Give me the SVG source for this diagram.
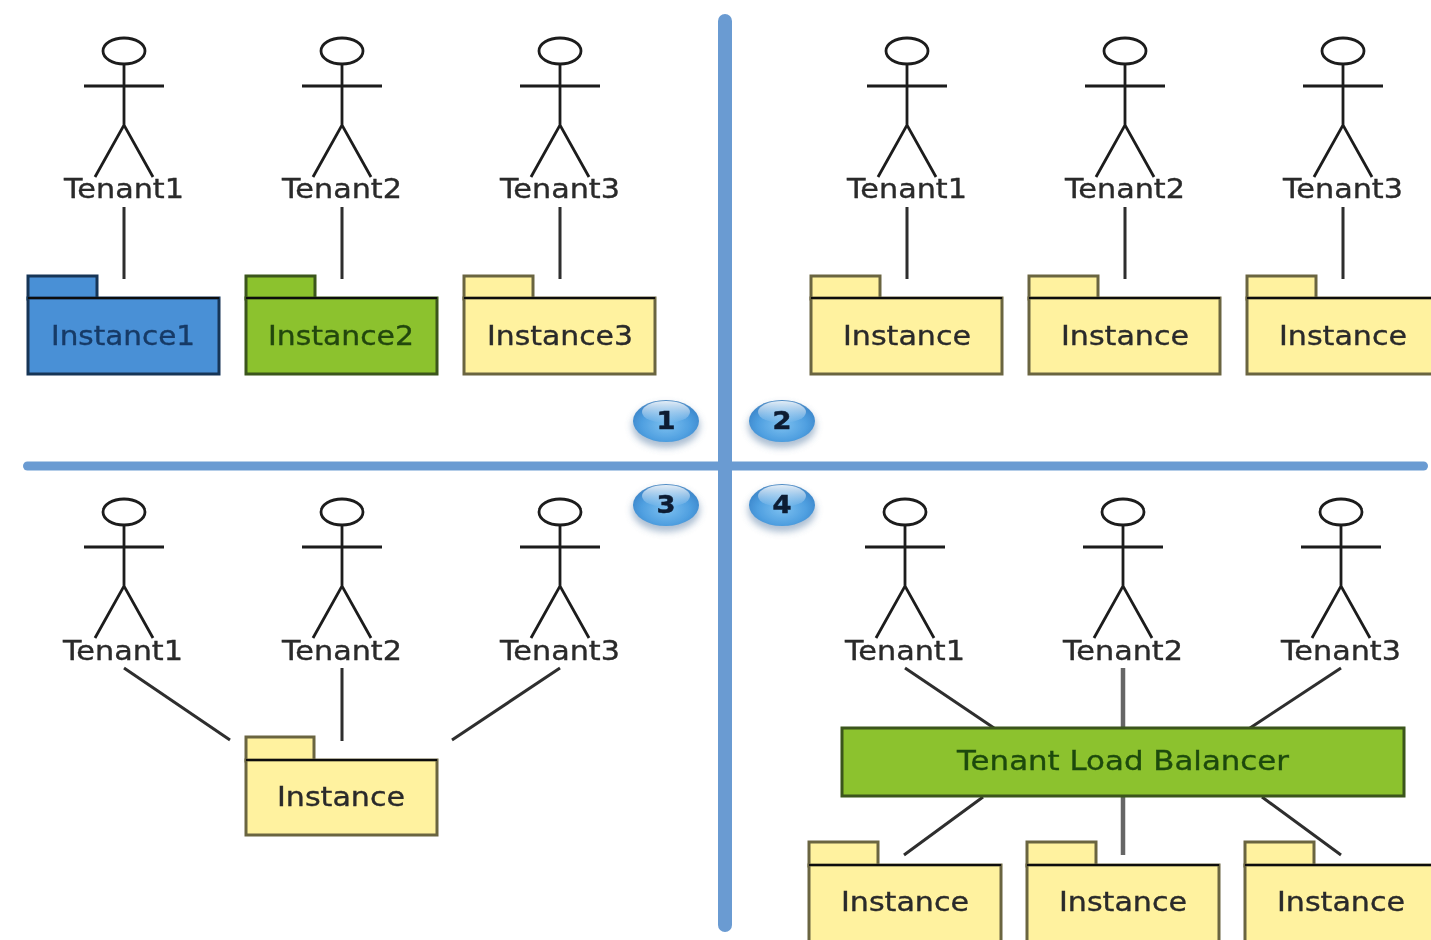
<svg xmlns="http://www.w3.org/2000/svg" xmlns:xlink="http://www.w3.org/1999/xlink" width="1431" height="940" viewBox="0 0 1431 940">
<style>
text{font-family:"DejaVu Sans","Liberation Sans",sans-serif;font-size:26px;text-anchor:middle;fill:#2a2a2a;stroke:#2a2a2a;stroke-width:.35}
.a{fill:none;stroke:#1c1c1c;stroke-width:2.8}
.c{fill:none;stroke:#2e2e2e;stroke-width:3}
.g{fill:none;stroke:#666;stroke-width:4.500}
.p{stroke-width:3;stroke:#6b6540;fill:#fff29f}
.pl{stroke:#111;stroke-width:2.200;fill:none}
.blue{fill:#4a90d6;stroke:#163456}
.green{fill:#8cc22f;stroke:#3a541a}
.b{font-weight:700;font-size:24px;fill:#0c1c33;stroke:#0c1c33;stroke-width:.5}
</style>
<defs>
<filter id="soft" x="-2%" y="-2%" width="104%" height="104%"><feGaussianBlur stdDeviation="0.75"/></filter>
<filter id="sh" x="-30%" y="-30%" width="160%" height="170%"><feGaussianBlur stdDeviation="3.500"/></filter>
<radialGradient id="ball" cx="50%" cy="60%" r="62%"><stop offset="0" stop-color="#7cc0f0"/><stop offset="0.6" stop-color="#4f9fe0"/><stop offset="0.85" stop-color="#3f8bcf"/><stop offset="1" stop-color="#5c8fc0"/></radialGradient>
<linearGradient id="shine" x1="0" y1="0" x2="0" y2="1"><stop offset="0" stop-color="#fff" stop-opacity=".85"/><stop offset="1" stop-color="#fff" stop-opacity="0"/></linearGradient>
<g id="actor"><ellipse class="a" cx="0" cy="0" rx="21" ry="13"/><path class="a" d="M0 13V74M-40 35H40M-29 126L0 74L29 126"/></g>
<g id="ballshape"><ellipse cx="0" cy="5" rx="34" ry="22" fill="#5a7fa6" opacity=".5" filter="url(#sh)"/><ellipse cx="0" cy="0" rx="33" ry="21" fill="url(#ball)"/><ellipse cx="0" cy="-9" rx="24" ry="11" fill="url(#shine)"/></g>
</defs>
<rect width="1431" height="940" fill="#fff"/>
<g filter="url(#soft)">
<g id="dividers">
<rect x="718" y="14" width="14" height="918" rx="7" fill="#6a9bd2"/>
<rect x="23" y="461.500" width="1405" height="9" rx="4.500" fill="#6a9bd2"/>
</g>
<g id="connectors">
<path class="c" d="M124 207V279M342 207V279M560 207V279M907 207V279M1125 207V279M1343 207V279"/>
<path class="c" d="M124 668L230 740M342 668V741M560 668L452 740"/>
<path class="c" d="M905 668L994 728M1341 668L1250 728M983 797L904 855M1262 797L1341 855"/>
<path class="g" d="M1123 668V728M1123 797V855"/>
</g>
<g id="actor-q1-1"><use xlink:href="#actor" x="124" y="51"/><text x="124" y="198" textLength="120" lengthAdjust="spacingAndGlyphs">Tenant1</text></g>
<g id="actor-q1-2"><use xlink:href="#actor" x="342" y="51"/><text x="342" y="198" textLength="120" lengthAdjust="spacingAndGlyphs">Tenant2</text></g>
<g id="actor-q1-3"><use xlink:href="#actor" x="560" y="51"/><text x="560" y="198" textLength="120" lengthAdjust="spacingAndGlyphs">Tenant3</text></g>
<g id="actor-q2-1"><use xlink:href="#actor" x="907" y="51"/><text x="907" y="198" textLength="120" lengthAdjust="spacingAndGlyphs">Tenant1</text></g>
<g id="actor-q2-2"><use xlink:href="#actor" x="1125" y="51"/><text x="1125" y="198" textLength="120" lengthAdjust="spacingAndGlyphs">Tenant2</text></g>
<g id="actor-q2-3"><use xlink:href="#actor" x="1343" y="51"/><text x="1343" y="198" textLength="120" lengthAdjust="spacingAndGlyphs">Tenant3</text></g>
<g id="actor-q3-1"><use xlink:href="#actor" x="124" y="512"/><text x="123" y="660" textLength="120" lengthAdjust="spacingAndGlyphs">Tenant1</text></g>
<g id="actor-q3-2"><use xlink:href="#actor" x="342" y="512"/><text x="342" y="660" textLength="120" lengthAdjust="spacingAndGlyphs">Tenant2</text></g>
<g id="actor-q3-3"><use xlink:href="#actor" x="560" y="512"/><text x="560" y="660" textLength="120" lengthAdjust="spacingAndGlyphs">Tenant3</text></g>
<g id="actor-q4-1"><use xlink:href="#actor" x="905" y="512"/><text x="905" y="660" textLength="120" lengthAdjust="spacingAndGlyphs">Tenant1</text></g>
<g id="actor-q4-2"><use xlink:href="#actor" x="1123" y="512"/><text x="1123" y="660" textLength="120" lengthAdjust="spacingAndGlyphs">Tenant2</text></g>
<g id="actor-q4-3"><use xlink:href="#actor" x="1341" y="512"/><text x="1341" y="660" textLength="120" lengthAdjust="spacingAndGlyphs">Tenant3</text></g>

<g id="pkg-instance1"><rect class="p blue" x="28" y="276" width="69" height="23"/><rect class="p blue" x="28" y="298" width="191" height="76"/><path class="pl" d="M28 298H219"/><text x="123" y="345" textLength="144" lengthAdjust="spacingAndGlyphs" style="fill:#173a66;stroke:#173a66">Instance1</text></g>
<g id="pkg-instance2"><rect class="p green" x="246" y="276" width="69" height="23"/><rect class="p green" x="246" y="298" width="191" height="76"/><path class="pl" d="M246 298H437"/><text x="341" y="345" textLength="146" lengthAdjust="spacingAndGlyphs" style="fill:#24470f;stroke:#24470f">Instance2</text></g>
<g id="pkg-instance3"><rect class="p" x="464" y="276" width="69" height="23"/><rect class="p" x="464" y="298" width="191" height="76"/><path class="pl" d="M464 298H655"/><text x="560" y="345" textLength="146" lengthAdjust="spacingAndGlyphs">Instance3</text></g>
<g id="pkg-q2-1"><rect class="p" x="811" y="276" width="69" height="23"/><rect class="p" x="811" y="298" width="191" height="76"/><path class="pl" d="M811 298H1002"/><text x="907" y="345" textLength="128" lengthAdjust="spacingAndGlyphs">Instance</text></g>
<g id="pkg-q2-2"><rect class="p" x="1029" y="276" width="69" height="23"/><rect class="p" x="1029" y="298" width="191" height="76"/><path class="pl" d="M1029 298H1220"/><text x="1125" y="345" textLength="128" lengthAdjust="spacingAndGlyphs">Instance</text></g>
<g id="pkg-q2-3"><rect class="p" x="1247" y="276" width="69" height="23"/><rect class="p" x="1247" y="298" width="191" height="76"/><path class="pl" d="M1247 298H1438"/><text x="1343" y="345" textLength="128" lengthAdjust="spacingAndGlyphs">Instance</text></g>
<g id="pkg-q3"><rect class="p" x="246" y="737" width="68" height="24"/><rect class="p" x="246" y="760" width="191" height="75"/><path class="pl" d="M246 760H437"/><text x="341" y="806" textLength="128" lengthAdjust="spacingAndGlyphs">Instance</text></g>
<g id="balancer"><rect class="p green" x="842" y="728" width="562" height="68"/><text x="1123" y="770" textLength="332" lengthAdjust="spacingAndGlyphs" style="fill:#1f4a0c;stroke:#1f4a0c">Tenant Load Balancer</text></g>
<g id="pkg-q4-1"><rect class="p" x="809" y="842" width="69" height="24"/><rect class="p" x="809" y="865" width="192" height="80"/><path class="pl" d="M809 865H1001"/><text x="905" y="911" textLength="128" lengthAdjust="spacingAndGlyphs">Instance</text></g>
<g id="pkg-q4-2"><rect class="p" x="1027" y="842" width="69" height="24"/><rect class="p" x="1027" y="865" width="192" height="80"/><path class="pl" d="M1027 865H1219"/><text x="1123" y="911" textLength="128" lengthAdjust="spacingAndGlyphs">Instance</text></g>
<g id="pkg-q4-3"><rect class="p" x="1245" y="842" width="69" height="24"/><rect class="p" x="1245" y="865" width="192" height="80"/><path class="pl" d="M1245 865H1437"/><text x="1341" y="911" textLength="128" lengthAdjust="spacingAndGlyphs">Instance</text></g>

<g id="badge-1"><use xlink:href="#ballshape" x="666" y="421"/><text class="b" x="666" y="429" textLength="19" lengthAdjust="spacingAndGlyphs">1</text></g>
<g id="badge-2"><use xlink:href="#ballshape" x="782" y="421"/><text class="b" x="782" y="429" textLength="19" lengthAdjust="spacingAndGlyphs">2</text></g>
<g id="badge-3"><use xlink:href="#ballshape" x="666" y="505"/><text class="b" x="666" y="513" textLength="19" lengthAdjust="spacingAndGlyphs">3</text></g>
<g id="badge-4"><use xlink:href="#ballshape" x="782" y="505"/><text class="b" x="782" y="513" textLength="19" lengthAdjust="spacingAndGlyphs">4</text></g>
</g>
</svg>
